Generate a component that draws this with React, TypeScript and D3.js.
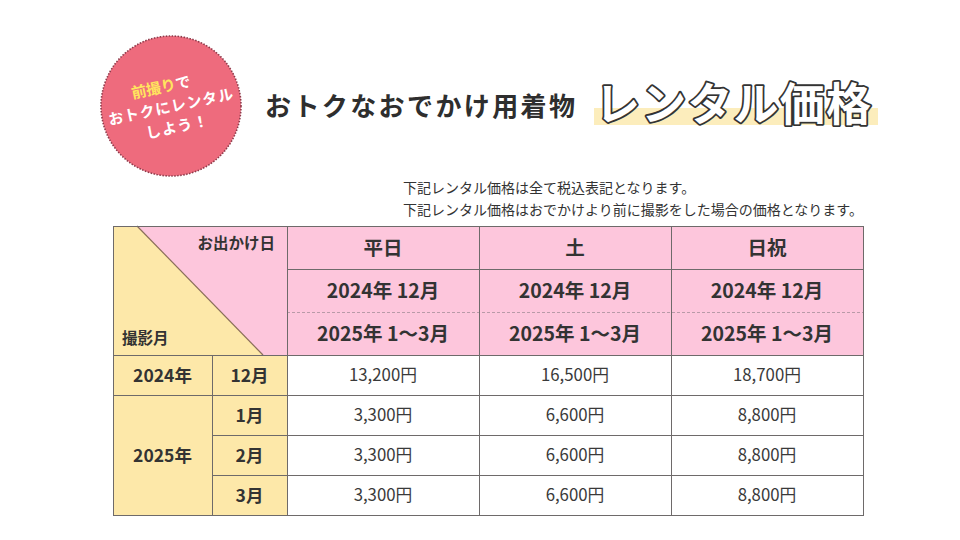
import React from "react";
import * as d3 from "d3";

// table content
const dayTypes = ["平日", "土", "日祝"];
const periodLines = ["2024年 12月", "2025年 1〜3月"];
const shootMonths = ["12月", "1月", "2月", "3月"];
const shootYears = [
  { label: "2024年", months: ["12月"] },
  { label: "2025年", months: ["1月", "2月", "3月"] }
];
const weekdayPrices = [13200, 3300, 3300, 3300];
const saturdayPrices = [16500, 6600, 6600, 6600];
const holidayPrices = [18700, 8800, 8800, 8800];
const notes = [
  "下記レンタル価格は全て税込表記となります。",
  "下記レンタル価格はおでかけより前に撮影をした場合の価格となります。"
];

const W = 960;
const H = 540;
const FONT = "'Noto Sans CJK JP', 'Noto Sans', sans-serif";
const PINK = "#fdc6dc";
const YELLOW = "#fde8a9";
const LINE = "#6e6a6a";
const TEXT = "#333";

const tableLeft = 113;
const yearRight = 212;
const labelRight = 287;
const tableRight = 863;
const headTop = 226;
const headRows = [226, 269, 312, 355];
const tableBottom = 515;

const fmt = d3.format(",");

export default function App() {
  const x = d3.scaleBand<string>().domain(dayTypes).range([labelRight, tableRight]);
  const y = d3.scaleBand<string>().domain(shootMonths).range([headRows[3], tableBottom]);
  const priceTable = [weekdayPrices, saturdayPrices, holidayPrices];

  return (
    <svg
      width={W}
      height={H}
      style={{ position: "absolute", left: 0, top: 0, background: "#fff" }}
      fontFamily={FONT}
    >
      {/* badge */}
      <g transform="translate(171,106)">
        <circle r={70} fill="#ee6b7d" stroke="#8e3b4b" strokeWidth={1.6} strokeDasharray="1.5 1.5" />
        <g transform="rotate(-12)" fontWeight={700} textAnchor="middle" fill="#fff" fontSize={15}>
          <text x={-6} y={-15}>
            <tspan fill="#ffe55e">前撮り</tspan>で
          </text>
          <text x={0} y={6} letterSpacing={1}>おトクにレンタル</text>
          <text x={2} y={27} letterSpacing={1}>しよう！</text>
        </g>
      </g>

      {/* title */}
      <text x={265} y={116} fontSize={26} fontWeight={700} fill="#2e2e2e" textLength={310} lengthAdjust="spacing">
        おトクなおでかけ用着物
      </text>
      <rect x={594} y={108} width={284} height={17} fill="#fcedbc" />
      <g fontSize={45} fontWeight={700}>
        <text x={595} y={121} fill="#333" stroke="#333" strokeWidth={3.6} strokeLinejoin="round" textLength={276} lengthAdjust="spacing">
          レンタル価格
        </text>
        <text x={595} y={121} fill="#fff" textLength={276} lengthAdjust="spacing">
          レンタル価格
        </text>
      </g>

      {/* notes */}
      {notes.map((n, i) => (
        <text key={i} x={403} y={193 + i * 22} fontSize={14} fill={TEXT}>
          {n}
        </text>
      ))}

      {/* header backgrounds */}
      <rect x={labelRight} y={headTop} width={tableRight - labelRight} height={headRows[3] - headTop} fill={PINK} />
      <rect x={tableLeft} y={headTop} width={labelRight - tableLeft} height={headRows[3] - headTop} fill={YELLOW} />
      <path
        d={`M137,${headTop} L${labelRight},${headTop} L${labelRight},${headRows[3]} L263,${headRows[3]} Z`}
        fill={PINK}
      />
      <line x1={137} y1={headTop} x2={263} y2={headRows[3]} stroke="#8a6e5a" strokeWidth={1.2} />

      {/* row label backgrounds */}
      <rect x={tableLeft} y={headRows[3]} width={labelRight - tableLeft} height={tableBottom - headRows[3]} fill={YELLOW} />

      {/* header text */}
      <text x={275} y={249} fontSize={15.5} fontWeight={700} fill={TEXT} textAnchor="end">
        お出かけ日
      </text>
      <text x={122} y={344} fontSize={15.5} fontWeight={700} fill={TEXT}>
        撮影月
      </text>
      {dayTypes.map((d) => {
        const cx = (x(d) as number) + x.bandwidth() / 2;
        return (
          <g key={d} fontWeight={700} fill={TEXT} textAnchor="middle" fontSize={19.5}>
            <text x={cx} y={(headRows[0] + headRows[1]) / 2 + 7}>{d}</text>
            {periodLines.map((p, i) => (
              <text key={p} x={cx} y={(headRows[i + 1] + headRows[i + 2]) / 2 + 7}>
                {p}
              </text>
            ))}
          </g>
        );
      })}

      {/* row labels */}
      {shootYears.map((yr) => {
        const top = y(yr.months[0]) as number;
        const bottom = (y(yr.months[yr.months.length - 1]) as number) + y.bandwidth();
        return (
          <text
            key={yr.label}
            x={(tableLeft + yearRight) / 2}
            y={(top + bottom) / 2 + 6.5}
            fontSize={17.5}
            fontWeight={700}
            fill={TEXT}
            textAnchor="middle"
          >
            {yr.label}
          </text>
        );
      })}
      {shootMonths.map((m) => (
        <text
          key={m}
          x={(yearRight + labelRight) / 2}
          y={(y(m) as number) + y.bandwidth() / 2 + 6.5}
          fontSize={17.5}
          fontWeight={700}
          fill={TEXT}
          textAnchor="middle"
        >
          {m}
        </text>
      ))}

      {/* prices */}
      {priceTable.map((col, ci) =>
        col.map((v, ri) => (
          <text
            key={`${ci}-${ri}`}
            x={(x(dayTypes[ci]) as number) + x.bandwidth() / 2}
            y={(y(shootMonths[ri]) as number) + y.bandwidth() / 2 + 6}
            fontSize={16.8}
            fill="#3a3a3a"
            textAnchor="middle"
          >
            {fmt(v)}円
          </text>
        ))
      )}

      {/* grid lines */}
      <g stroke={LINE} strokeWidth={1} shapeRendering="crispEdges" fill="none">
        <rect x={tableLeft} y={headTop} width={tableRight - tableLeft} height={tableBottom - headTop} />
        <line x1={labelRight} x2={tableRight} y1={headRows[1]} y2={headRows[1]} />
        <line x1={labelRight} x2={tableRight} y1={headRows[2]} y2={headRows[2]} stroke="#b99aa8" strokeDasharray="3 2" />
        <line x1={tableLeft} x2={tableRight} y1={headRows[3]} y2={headRows[3]} />
        {shootMonths.slice(1).map((m) => {
          const yy = y(m) as number;
          const startX = shootYears.some((s) => s.months[0] === m) ? tableLeft : yearRight;
          return <line key={m} x1={startX} x2={tableRight} y1={yy} y2={yy} />;
        })}
        <line x1={yearRight} x2={yearRight} y1={headRows[3]} y2={tableBottom} />
        <line x1={labelRight} x2={labelRight} y1={headTop} y2={tableBottom} />
        {dayTypes.slice(1).map((d) => (
          <line key={d} x1={x(d) as number} x2={x(d) as number} y1={headTop} y2={tableBottom} />
        ))}
      </g>
    </svg>
  );
}
